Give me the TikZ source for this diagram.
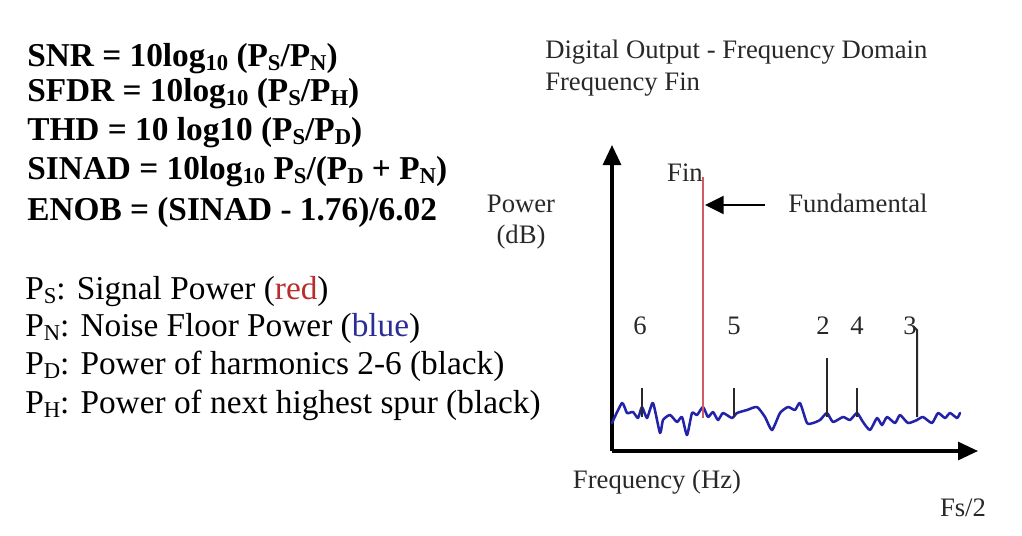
\documentclass[tikz,border=0pt]{standalone}
\usepackage{fontspec}
\setmainfont{Liberation Serif}
\usetikzlibrary{arrows.meta}
\definecolor{redline}{RGB}{210,90,100}
\definecolor{noiseblue}{RGB}{35,35,170}
\definecolor{textred}{RGB}{185,45,45}
\definecolor{textblue}{RGB}{45,45,150}
\definecolor{charttext}{RGB}{40,40,40}
\newcommand\sbs[1]{\raisebox{-3pt}{\fontsize{17}{17}\selectfont #1}}
\begin{document}
\begin{tikzpicture}[x=0.75pt,y=-0.75pt,
  formula/.style={anchor=base west,inner sep=0pt,font=\fontsize{25}{30}\selectfont\bfseries},
  legend/.style={anchor=base west,inner sep=0pt,font=\fontsize{25}{30}\selectfont},
  chartlbl/.style={inner sep=0pt,text=charttext,font=\fontsize{20}{24}\selectfont},
  axis/.style={line width=2.3pt,-{Triangle[length=15pt,width=13.5pt]}},
  spur/.style={line width=1.5pt,charttext},
]
\useasboundingbox (0,0) rectangle (1022,536);
% formulas
\node[formula] (snr) at (27,66) {SNR = 10log\sbs{10} (P\sbs{S}/P\sbs{N})};
\node[formula] (sfdr) at (27,101) {SFDR = 10log\sbs{10} (P\sbs{S}/P\sbs{H})};
\node[formula] (thd) at (27,140) {THD = 10 log10 (P\sbs{S}/P\sbs{D})};
\node[formula] (sinad) at (27,179) {SINAD = 10log\sbs{10} P\sbs{S}/(P\sbs{D} + P\sbs{N})};
\node[formula] (enob) at (27,220) {ENOB = (SINAD - 1.76)/6.02};
% legend
\node[legend] (ps) at (25,299) {P\sbs{S}: Signal Power (\textcolor{textred}{red})};
\node[legend] (pn) at (25,336) {P\sbs{N}: Noise Floor Power (\textcolor{textblue}{blue})};
\node[legend] (pd) at (25,374) {P\sbs{D}: Power of harmonics 2-6 (black)};
\node[legend] (ph) at (25,413) {P\sbs{H}: Power of next highest spur (black)};
% chart titles
\node[chartlbl,anchor=base west] (t1) at (545,58) {Digital Output - Frequency Domain};
\node[chartlbl,anchor=base west] (t2) at (545,90) {Frequency Fin};
\node[chartlbl,anchor=base] (pw) at (521,212) {Power};
\node[chartlbl,anchor=base] (db) at (521,243) {(dB)};
% axes
\coordinate (o) at (612,451);
\coordinate (ytip) at (612,145);
\coordinate (xtip) at (978,451);
\draw[axis] (o) -- (ytip);
\draw[axis] (o) -- (xtip);
\node[chartlbl,anchor=base] (fhz) at (657,488) {Frequency (Hz)};
\node[chartlbl,anchor=base] (fs) at (963,516) {Fs/2};
% noise floor
\draw[noiseblue,line width=1.9pt,line join=round,line cap=round] plot[smooth,tension=0.35] coordinates {(612,423) (622,403) (627,413) (633,412) (638,418) (642,407) (647,418) (653,403) (660,433) (663,420) (670,415) (677,422) (682,417) (687,435) (692,413) (697,415) (703,407) (708,417) (713,412) (718,420) (723,413) (732,418) (737,413) (747,410) (757,407) (765,417) (772,430) (780,413) (788,407) (795,410) (800,403) (807,423) (813,423) (820,420) (827,413) (833,422) (843,417) (850,420) (857,413) (863,422) (870,430) (877,418) (882,425) (887,417) (895,423) (900,415) (908,423) (917,420) (923,417) (932,423) (938,413) (945,418) (950,413) (957,418) (960,413)};
% fundamental
\coordinate (fb) at (703,418);
\coordinate (ft) at (703,177);
\draw[redline,line width=2.2pt] (fb) -- (ft);
\node[chartlbl,anchor=base] (fin) at (685,181) {Fin};
\node[chartlbl,anchor=base west] (fund) at (788,212) {Fundamental};
\coordinate (fa) at (765,205);
\coordinate (fat) at (705,205);
\draw[line width=1.8pt,-{Triangle[length=14pt,width=13.5pt]}] (fa) -- (fat);
% harmonics
\node[chartlbl,anchor=base] (h6) at (640,334) {6};
\node[chartlbl,anchor=base] (h5) at (734,334) {5};
\node[chartlbl,anchor=base] (h2) at (823,334) {2};
\node[chartlbl,anchor=base] (h4) at (857,334) {4};
\node[chartlbl,anchor=base] (h3) at (910,334) {3};
\draw[spur] (642,417) -- (642,388);
\draw[spur] (734,417) -- (734,388);
\draw[spur] (827,417) -- (827,358);
\draw[spur] (857,417) -- (857,388);
\draw[spur] (917,417) -- (917,330) -- (913,326);
\end{tikzpicture}
\end{document}
